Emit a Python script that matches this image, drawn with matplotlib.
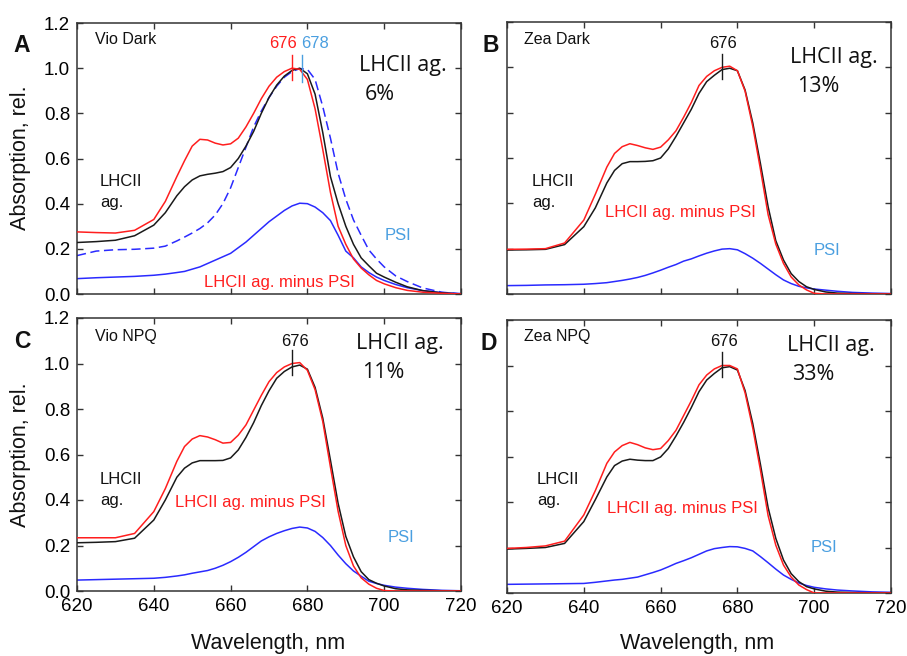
import matplotlib
matplotlib.use("Agg")
import matplotlib.pyplot as plt

plt.rcParams['font.family'] = ['Liberation Sans', 'DejaVu Sans']

# ---------------- data ----------------
wl = [620, 625, 630, 635, 640, 643, 646, 648, 650, 652, 654, 656, 658, 660,
      662, 664, 666, 668, 670, 672, 674, 676, 678, 680, 682, 684, 686, 688,
      690, 692, 694, 696, 698, 700, 703, 706, 710, 715, 720]

# Panel A (Vio Dark)
a_minus = [.275, .272, .270, .282, .33, .41, .52, .59, .655, .685, .682, .668, .66, .665,
           .69, .74, .80, .865, .92, .96, .985, 1.0, .995, .95, .82, .64, .45, .30,
           .22, .155, .115, .085, .06, .045, .028, .016, .008, .003, 0.0]
a_lhcii = [.228, .232, .238, .258, .305, .36, .435, .475, .505, .523, .53, .535, .542, .56,
           .60, .655, .72, .80, .87, .925, .965, .99, 1.0, .975, .885, .715, .52, .40,
           .30, .22, .16, .125, .092, .075, .052, .032, .015, .005, 0.0]
a_psi_norm = [.170, .19, .196, .198, .203, .212, .235, .252, .27, .29, .315, .35, .40, .47,
              .56, .65, .74, .81, .87, .92, .96, .985, .998, .995, .95, .83, .69, .535,
              .42, .328, .26, .195, .155, .12, .08, .055, .027, .008, 0.0]
a_psi = [.068, .072, .075, .078, .083, .088, .095, .10, .11, .12, .135, .15, .165, .18,
         .205, .23, .26, .29, .32, .345, .37, .39, .402, .40, .385, .36, .325, .26,
         .19, .16, .12, .095, .075, .06, .042, .028, .015, .006, .002]

# Panel B (Zea Dark)
b_minus = [.197, .198, .20, .225, .326, .44, .56, .62, .65, .663, .655, .645, .638, .648,
           .68, .72, .78, .845, .92, .96, .985, 1.0, 1.005, .985, .895, .74, .55, .35,
           .22, .135, .075, .04, .018, .003, 0.0, 0.0, 0.0, 0.0, 0.0]
b_lhcii = [.194, .195, .197, .218, .297, .38, .49, .545, .575, .584, .584, .585, .588, .60,
           .64, .695, .755, .815, .885, .937, .965, .99, .996, .985, .90, .755, .575, .385,
           .235, .15, .09, .055, .032, .02, .009, .004, .002, .001, 0.0]
b_psi = [.037, .038, .04, .041, .043, .046, .05, .055, .06, .066, .073, .082, .093, .105,
         .118, .13, .145, .155, .168, .18, .19, .198, .2, .195, .178, .158, .135, .11,
         .085, .062, .046, .034, .027, .022, .017, .012, .007, .004, .002]

# Panel C (Vio NPQ)
c_minus = [.234, .234, .234, .253, .349, .45, .57, .635, .668, .683, .677, .665, .65, .653,
           .685, .73, .795, .86, .92, .96, .985, 1.0, 1.004, .97, .885, .745, .545, .35,
           .20, .11, .058, .03, .012, .002, 0.0, 0.0, 0.0, 0.0, 0.0]
c_lhcii = [.212, .214, .217, .232, .312, .40, .50, .54, .563, .573, .573, .573, .574, .585,
           .62, .675, .74, .815, .88, .935, .965, .985, .993, .975, .895, .76, .575, .385,
           .24, .15, .085, .05, .034, .022, .01, .005, .003, .001, 0.0]
c_psi = [.048, .05, .052, .054, .056, .06, .066, .071, .078, .084, .09, .10, .113, .129,
         .148, .17, .195, .22, .238, .253, .265, .275, .281, .277, .262, .235, .20, .158,
         .12, .088, .065, .043, .033, .025, .017, .012, .007, .003, .001]

# Panel D (Zea NPQ)
d_minus = [.196, .20, .207, .228, .343, .45, .57, .62, .648, .662, .652, .638, .63, .635,
           .67, .715, .78, .845, .915, .958, .985, 1.0, 1.0, .985, .88, .725, .54, .34,
           .21, .123, .07, .035, .015, 0.0, 0.0, 0.0, 0.0, 0.0, 0.0]
d_lhcii = [.193, .196, .20, .218, .314, .41, .51, .56, .58, .588, .584, .582, .582, .598,
           .635, .69, .75, .815, .885, .936, .965, .99, .995, .98, .89, .745, .565, .375,
           .24, .145, .085, .05, .028, .018, .008, .004, .002, .001, 0.0]
d_psi = [.038, .039, .04, .041, .042, .047, .053, .057, .06, .065, .07, .08, .09, .101,
         .115, .13, .142, .155, .17, .185, .195, .2, .204, .203, .196, .185, .16, .133,
         .105, .079, .06, .044, .033, .025, .018, .013, .009, .005, .003]

panel_letters = ['A', 'B', 'C', 'D']
panel_titles = ['Vio Dark', 'Zea Dark', 'Vio NPQ', 'Zea NPQ']
panel_percent = ['6%', '13%', '11%', '33%']
peak_mark = 676
psi_peak_mark = 678.7
psi_peak_label = '678'
xticks = [620, 640, 660, 680, 700, 720]
yticks = [0.0, 0.2, 0.4, 0.6, 0.8, 1.0, 1.2]

RED = '#ff1e1e'
BLACK = '#1a1a1a'
BLUE = '#2a2aff'
LBLUE = '#4a9fe0'

W, H = 907, 656
fig = plt.figure(figsize=(W / 100, H / 100), dpi=100)


def px(x, y):
    return x / W, 1 - y / H


# axes boxes in pixels: left, top, right, bottom
boxes = [(77, 23, 461, 294), (507, 22, 891, 294),
         (77, 318, 461, 591), (507, 320, 891, 593)]
axes = []
for (l, t, r, b) in boxes:
    ax = fig.add_axes([l / W, 1 - b / H, (r - l) / W, (b - t) / H])
    axes.append(ax)

series = [(a_minus, a_lhcii, a_psi), (b_minus, b_lhcii, b_psi),
          (c_minus, c_lhcii, c_psi), (d_minus, d_lhcii, d_psi)]

for i, ax in enumerate(axes):
    mn, lh, ps = series[i]
    ax.plot(wl, ps, color=BLUE, lw=1.1, zorder=2)
    if i == 0:
        ax.plot(wl, a_psi_norm, color=BLUE, lw=1.1, dashes=(6, 3), zorder=2)
    ax.plot(wl, lh, color=BLACK, lw=1.1, zorder=3)
    ax.plot(wl, mn, color=RED, lw=1.1, zorder=4)
    ax.set_xlim(620, 720)
    ax.set_ylim(0, 1.2)
    ax.set_xticks(xticks)
    ax.set_yticks(yticks)
    ax.tick_params(direction='in', top=True, right=True, length=4, width=1.0,
                   color='#333333', labelsize=13.5, pad=5)
    ax.yaxis.set_major_formatter(matplotlib.ticker.FormatStrFormatter('%.1f'))
    for s in ax.spines.values():
        s.set_color('#333333')
        s.set_linewidth(1.1)
    if i in (1, 3):
        ax.tick_params(labelleft=False)
    if i in (0, 1):
        ax.tick_params(labelbottom=False)
    # peak marker
    mcol = RED if i == 0 else BLACK
    ax.plot([peak_mark, peak_mark], [0.948, 1.058], color=mcol, lw=1.0, zorder=5)
    if i == 0:
        ax.plot([psi_peak_mark, psi_peak_mark], [0.94, 1.058], color=LBLUE, lw=1.0, zorder=5)

# y-axis labels
for yc in (158, 455):
    fig.text(*px(21, yc), 'Absorption, rel.', rotation=90, ha='center', va='center',
             fontsize=15.5, color='#111111')
# x-axis labels
for xc in (268, 697):
    fig.text(*px(xc, 644), 'Wavelength, nm', ha='center', va='center',
             fontsize=15.5, color='#111111')

# panel annotations (pixel positions)
letters_pos = [(13, 45), (482, 45), (14, 342), (481, 343)]
titles_pos = [(95, 39), (524, 39), (95, 337), (524, 336)]
peak_lbl_pos = [(283, 43), (723, 43), (295, 342), (724, 341)]
big_pos = [(359, 65), (790, 57), (356, 343), (787, 345)]
pct_pos = [(365, 95), (797, 87), (362, 373), (792, 375)]
lh_pos = [(100, 182), (532, 182), (100, 480), (537, 480)]
minus_pos = [(204, 283), (605, 213), (175, 502), (607, 508)]
psi_pos = [(385, 236), (814, 251), (388, 538), (811, 548)]

for i in range(4):
    fig.text(*px(*letters_pos[i]), panel_letters[i], fontsize=16.5, fontweight='bold',
             ha='left', va='center', color='#111111')
    fig.text(*px(*titles_pos[i]), panel_titles[i], fontsize=11.5, ha='left',
             va='center', color='#111111')
    fig.text(*px(*peak_lbl_pos[i]), str(peak_mark), fontsize=12, ha='center',
             va='center', color=RED if i == 0 else '#111111')
    fig.text(*px(*big_pos[i]), 'LHCII ag.', fontsize=15.5, ha='left', va='center',
             family=['Open Sans', 'DejaVu Sans'], color='#111111')
    fig.text(*px(*pct_pos[i]), panel_percent[i], fontsize=15.5, ha='left', va='center',
             family=['Open Sans', 'DejaVu Sans'], color='#111111')
    fig.text(*px(*lh_pos[i]), 'LHCII', fontsize=12, ha='left', va='center',
             color='#111111')
    fig.text(*px(lh_pos[i][0], lh_pos[i][1] + 21), 'ag.', fontsize=12, ha='left',
             va='center', color='#111111')
    fig.text(*px(*minus_pos[i]), 'LHCII ag. minus PSI', fontsize=12, ha='left',
             va='center', color=RED)
    fig.text(*px(*psi_pos[i]), 'PSI', fontsize=12, ha='left', va='center', color=LBLUE)

fig.text(*px(315, 43), psi_peak_label, fontsize=12, ha='center', va='center', color=LBLUE)

fig.savefig('out.png', dpi=100)
